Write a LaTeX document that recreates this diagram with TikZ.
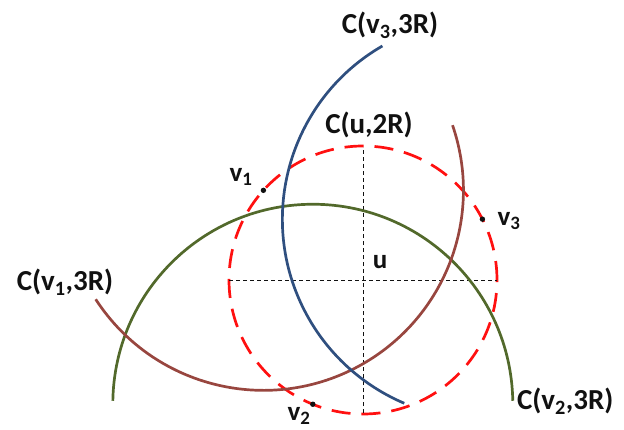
\documentclass[tikz,border=0pt]{standalone}
\usepackage{fontspec}
\setmainfont{Carlito}
\usepackage{xcolor}
\usepackage{tikz}
\usetikzlibrary{positioning}
\definecolor{ringred}{HTML}{FF1010}
\definecolor{arcblue}{HTML}{2F4F7F}
\definecolor{arcbrown}{HTML}{98463F}
\definecolor{arcgreen}{HTML}{52692B}
\definecolor{ink}{HTML}{111111}
\tikzset{
  ring/.style    = {draw=ringred, line width=2.7pt, dash pattern=on 19pt off 11pt},
  axisline/.style= {draw=ink, line width=1pt, dash pattern=on 4pt off 3pt},
  bigarc/.style  = {line width=2.7pt},
  lbl/.style     = {font=\fontsize{29}{32}\selectfont\bfseries\color{ink}, inner sep=0pt, outer sep=0pt},
  vlbl/.style    = {font=\fontsize{27}{30}\selectfont\bfseries\color{ink}, inner sep=0pt, outer sep=0pt},
  pt/.style      = {fill=ink},
}
\newcommand{\vsub}[1]{v\textsubscript{#1}}

\begin{document}
\begin{tikzpicture}[x=1pt,y=1pt]
\path[use as bounding box] (0,0) rectangle (624,429);

% ---- centres -------------------------------------------------------------
\coordinate (u) at (363,149);
\coordinate (v1) at ([shift={(138:134)}]u);
\coordinate (v2) at ([shift={(248:134)}]u);
\coordinate (v3) at ([shift={(27:134)}]u);

% ---- C(u,2R) and its cross ----------------------------------------------
\draw[ring] (u) circle (134);
\draw[axisline] ([xshift=-134pt]u) -- ([xshift=134pt]u);
\draw[axisline] ([yshift=-133pt]u) -- ([yshift=133pt]u);

% ---- the three 3R arcs ---------------------------------------------------
\draw[bigarc, arcgreen] ([shift={(1:200)}]v2) arc[start angle=1, end angle=179, radius=200];
\draw[bigarc, arcbrown] ([shift={(213:200)}]v1) arc[start angle=213, end angle=379, radius=200];
\draw[bigarc, arcblue]  ([shift={(120:200)}]v3) arc[start angle=120, end angle=247, radius=200];

% ---- points --------------------------------------------------------------
\foreach \p in {v1,v2,v3}{ \fill[pt] (\p) circle (2.7); }

% ---- labels --------------------------------------------------------------
\node[lbl] (lab-cu)  at (369,304) {C(u,2R)};
\node[lbl] (lab-cv3) at (390,404) {C(\vsub{3},3R)};
\node[lbl] (lab-cv1) at (65,147)  {C(\vsub{1},3R)};
\node[lbl, anchor=west] (lab-cv2) at (517,28) {C(\vsub{2},3R)};
\node[vlbl] (lab-u)  at (380,167) {u};
\node[vlbl] (lab-v1) at (241,252) {\vsub{1}};
\node[vlbl] (lab-v2) at (299,13)  {\vsub{2}};
\node[vlbl] (lab-v3) at (509,208) {\vsub{3}};

\end{tikzpicture}
\end{document}
